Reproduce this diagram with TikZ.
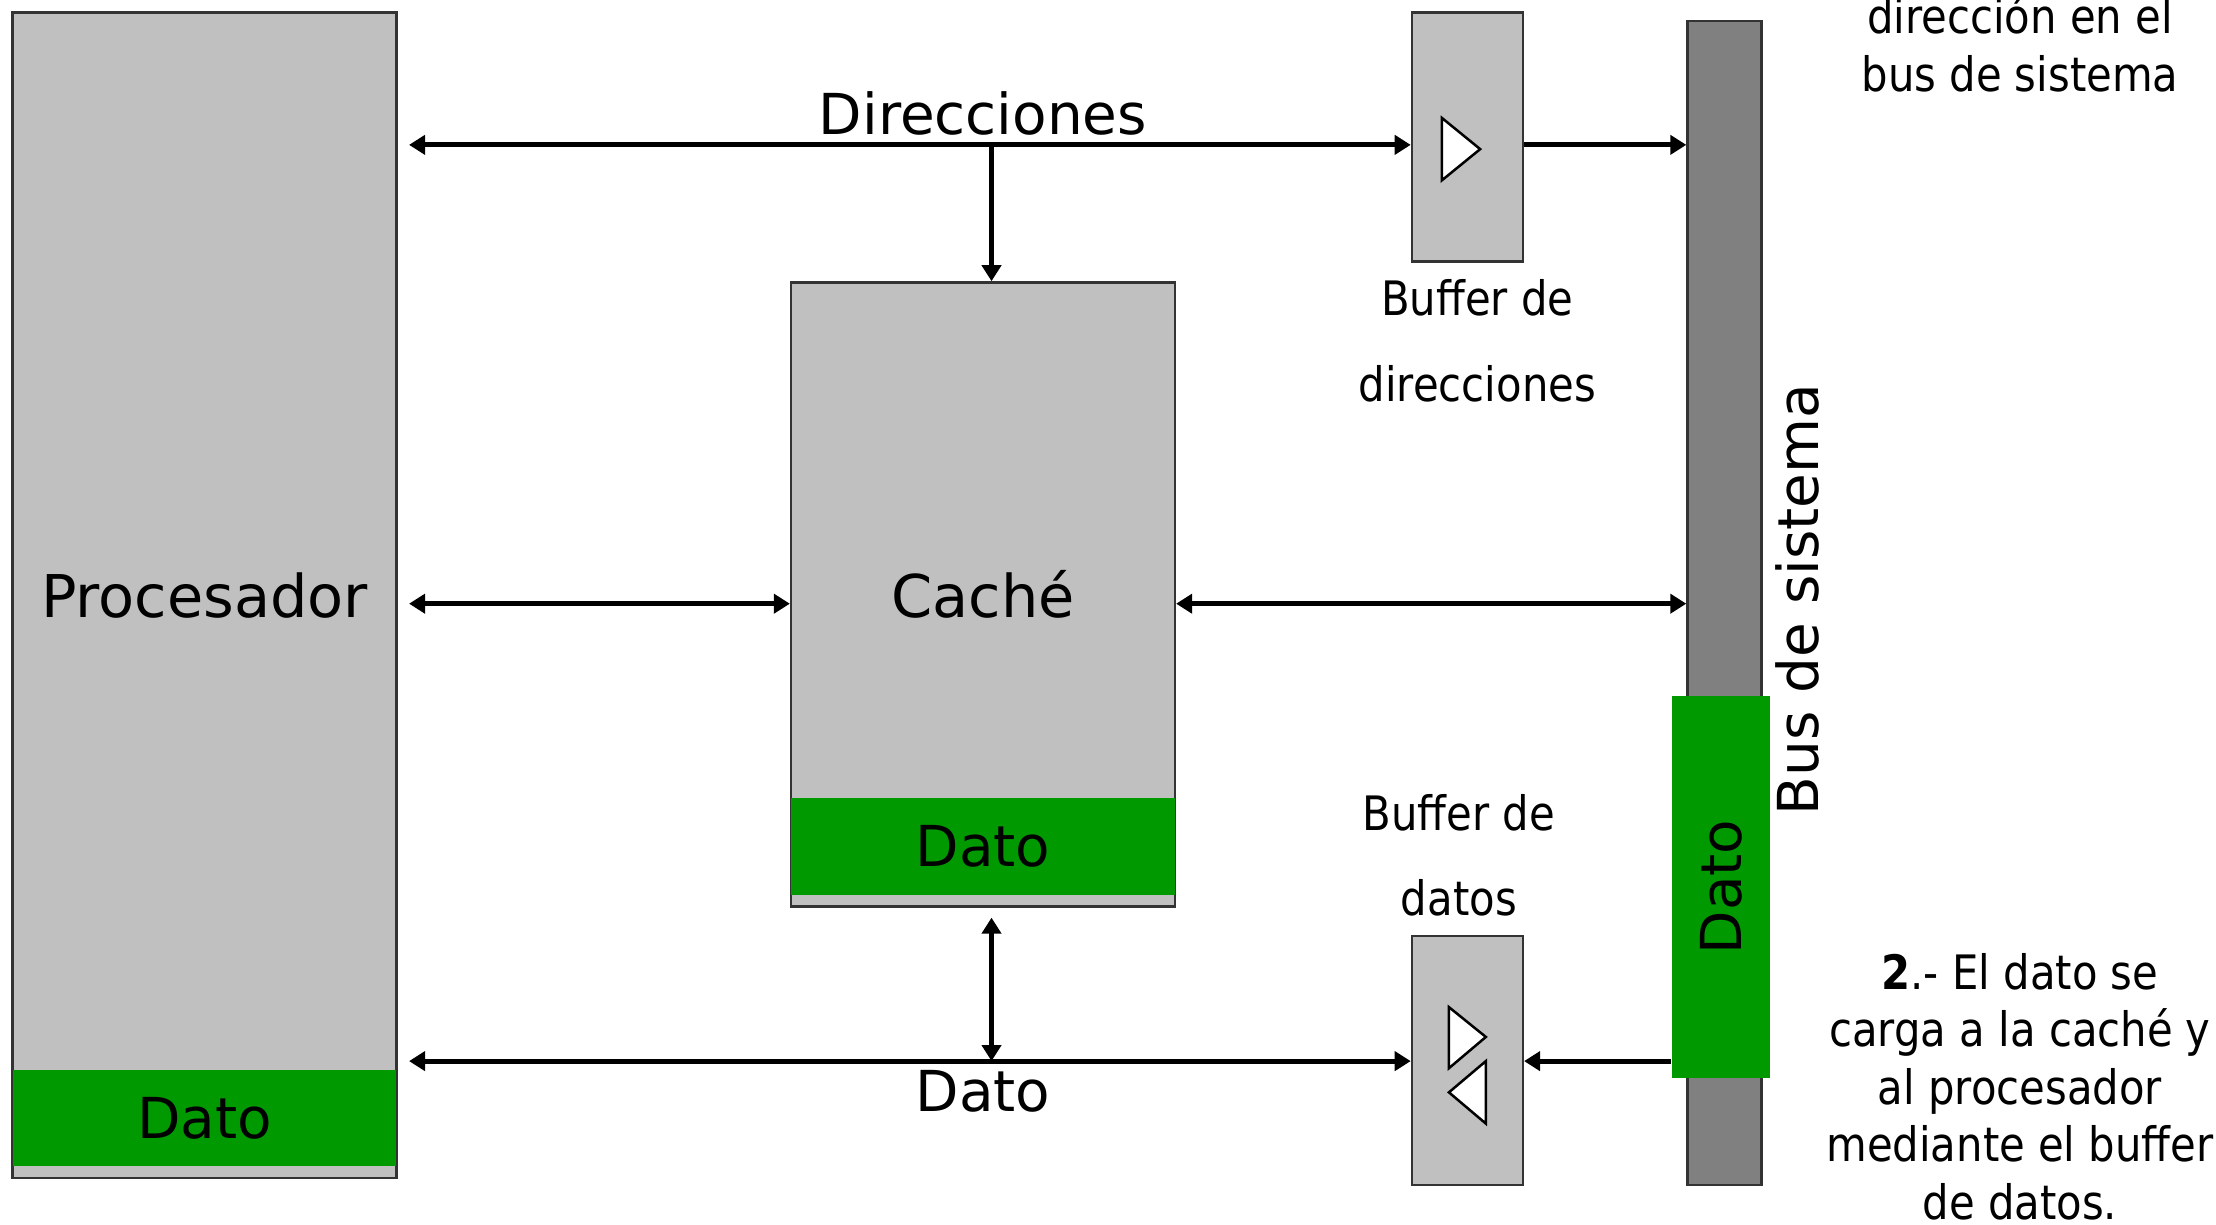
\documentclass[tikz,border=0pt]{standalone}
\usepackage{fontspec}
\setmainfont{DejaVu Sans}
\newfontfamily\narrowfont[FakeStretch=0.88]{DejaVu Sans}
\usetikzlibrary{arrows.meta}
\definecolor{boxgray}{RGB}{192,192,192}
\definecolor{busgray}{RGB}{128,128,128}
\definecolor{datagreen}{RGB}{0,153,0}
\newcommand\bigtext{\fontsize{11.3}{13.5}\selectfont}
\newcommand\smalltext{\narrowfont\fontsize{9.5}{11.5}\selectfont}
\newcommand\gap{0.08cm}

\begin{document}
\begin{tikzpicture}[x=0.01cm,y=-0.01cm,
    >={Triangle[length=3.2pt,width=3.8pt]},
    unit/.style={draw=black!80,line width=0.5pt,fill=boxgray,inner sep=0pt,font=\bigtext},
    band/.style={fill=datagreen,inner sep=0pt,font=\bigtext},
    link/.style={line width=1pt},
    note/.style={font=\smalltext,align=center}]

    \useasboundingbox (0,0) rectangle (1560,862);

    % blocks
    \node[unit,minimum width=2.7cm,minimum height=8.2cm,font=\fontsize{11.8}{14}\selectfont] (proc) at (144,419) {Procesador};
    \node[band,minimum width=2.7cm,minimum height=0.68cm] (procdato) at (144,787) {Dato};

    \node[unit,minimum width=2.7cm,minimum height=4.39cm,font=\fontsize{11.8}{14}\selectfont] (cache) at (692,418.5) {Caché};
    \node[band,minimum width=2.7cm,minimum height=0.68cm] (cachedato) at (692,596) {Dato};

    \node[unit,minimum width=0.78cm,minimum height=1.75cm] (addrbuf) at (1033,96.5) {};
    \node[unit,minimum width=0.78cm,minimum height=1.75cm] (databuf) at (1033,746.5) {};
    \draw[fill=white,line width=0.5pt] (1015,83) -- (1015,127) -- (1042,105) -- cycle;
    \draw[fill=white,line width=0.5pt] (1020,709) -- (1020,752) -- (1046,730) -- cycle;
    \draw[fill=white,line width=0.5pt] (1046,747) -- (1046,791) -- (1020,769) -- cycle;

    \node[unit,fill=busgray,minimum width=0.52cm,minimum height=8.19cm] (bus) at (1214,424.5) {};
    \node[band,minimum width=0.69cm,minimum height=2.69cm] (busdato) at (1211.5,624.5) {\rotatebox{90}{Dato}};
    \node[rotate=90,font=\bigtext] (buslabel) at (1265,422) {Bus de sistema};

    % lines
    \coordinate (addrline) at (698,102);
    \coordinate (midline) at (0,425);
    \coordinate (dataline) at (698,747);

    \draw[link,<->,shorten <=\gap] (proc.east |- addrline) -- (addrbuf.west |- addrline);
    \draw[link,->] (addrline) -- (addrline |- cache.north);
    \draw[link,->] (addrbuf.east |- addrline) -- (bus.west |- addrline);

    \draw[link,<->,shorten <=\gap] (proc.east |- midline) -- (cache.west |- midline);
    \draw[link,<->] (cache.east |- midline) -- (bus.west |- midline);

    \draw[link,<->,shorten <=\gap] (proc.east |- dataline) -- (databuf.west |- dataline);
    \draw[link,<->,shorten <=0.07cm] (dataline |- cache.south) -- (dataline);
    \draw[link,->] (busdato.west |- dataline) -- (databuf.east |- dataline);

    % labels
    \node[font=\bigtext] (dirlabel) at (692,80) {Direcciones};
    \node[font=\bigtext] (datolabel) at (692,768) {Dato};
    \node[note] (addrnote) at (1040,240) {Buffer de\\[5.6pt]direcciones};
    \node[note] (datanote) at (1027,602) {Buffer de\\[5.6pt]datos};
    \node[note] (step1) at (1422,31) {dirección en el\\bus de sistema};
    \node[note] (step2) at (1422,765) {\textbf{2}.- El dato se\\carga a la caché y\\al procesador\\mediante el buffer\\de datos.};
\end{tikzpicture}
\end{document}
